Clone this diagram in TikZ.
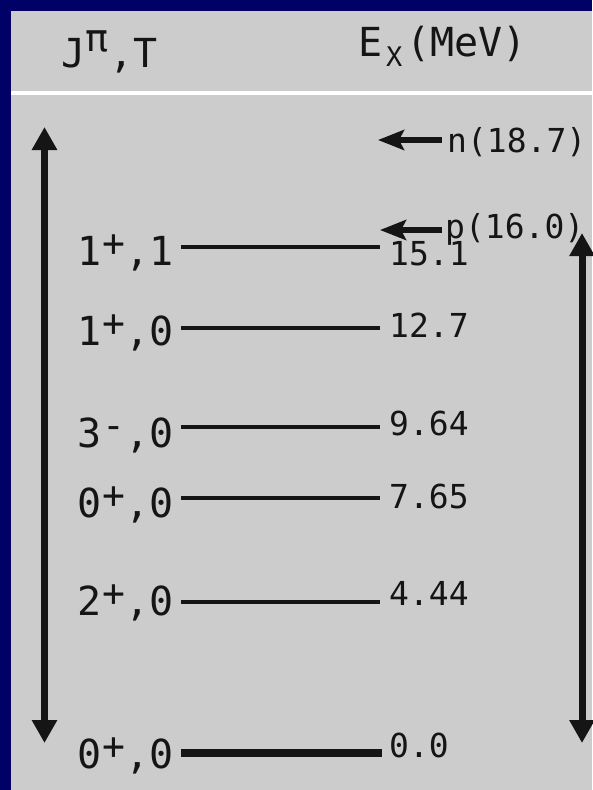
\documentclass[tikz,border=0pt]{standalone}
\usepackage{fontspec}
\newfontfamily\monofnt{DejaVu Sans Mono}
\usetikzlibrary{arrows.meta}
\definecolor{navy}{HTML}{000066}
\definecolor{panel}{HTML}{CCCCCC}
\definecolor{ink}{HTML}{151515}
\newcommand\supr[2][0.22em]{\makebox[0.6em]{\raisebox{#1}{\fontsize{38}{38}\selectfont #2}}}
\newcommand\subr[1]{\makebox[0.6em]{\raisebox{-0.25em}{\fontsize{27}{27}\selectfont #1}}}
\begin{document}
\begin{tikzpicture}[x=1pt,y=-1pt,
  lab/.style={font=\monofnt\fontsize{40}{48}\selectfont, inner sep=0pt, text=ink, anchor=base east},
  hdr/.style={font=\monofnt\fontsize{40}{48}\selectfont, inner sep=0pt, text=ink, anchor=base west},
  val/.style={font=\monofnt\fontsize{33}{40}\selectfont, inner sep=0pt, text=ink, anchor=base west},
  level/.style={draw=ink, line width=3.5pt},
  ground/.style={draw=ink, line width=8pt},
  bigarrow/.style={draw=ink, line width=7pt, {Triangle[length=23pt,width=24pt]}-{Triangle[length=23pt,width=24pt]}},
  sepline/.style={draw=ink, line width=6pt, -{Stealth[length=26pt,width=20pt,inset=5pt]}}]
\useasboundingbox (0,0) rectangle (592,790);
\fill[navy] (0,0) rectangle (592,790);
\fill[panel] (11,11) rectangle (592,790);
\draw[white, line width=4pt] (11,93) -- (592,93);

% headers
\node[hdr] (hJ) at (61,67) {J\supr[0.4em]{π},T};
\node[hdr] (hE) at (358,56) {E\subr{X}(MeV)};

% energy range arrows
\coordinate (A1) at (44.5,127); \coordinate (A2) at (44.5,743);
\draw[bigarrow] (A1) -- (A2);
\coordinate (B1) at (582,233); \coordinate (B2) at (582,743);
\draw[bigarrow] (B1) -- (B2);

% separation thresholds
\coordinate (nt) at (442,140); \coordinate (nh) at (378,140);
\draw[sepline] (nt) -- (nh);
\node[val] (nl) at (447,152) {n(18.7)};
\coordinate (pt) at (442,230); \coordinate (ph) at (380,230);
\draw[sepline] (pt) -- (ph);
\node[val] (pl) at (445,238) {p(16.0)};

% levels
\coordinate (L1a) at (181,247); \coordinate (L1b) at (380,247);
\draw[level] (L1a) -- (L1b);
\node[lab] (J1) at (174,265) {1\supr{+},1};
\node[val] (E1) at (389,265) {15.1};

\coordinate (L2a) at (181,328); \coordinate (L2b) at (380,328);
\draw[level] (L2a) -- (L2b);
\node[lab] (J2) at (174,345) {1\supr{+},0};
\node[val] (E2) at (389,337) {12.7};

\coordinate (L3a) at (181,427); \coordinate (L3b) at (380,427);
\draw[level] (L3a) -- (L3b);
\node[lab] (J3) at (174,447) {3\supr{-},0};
\node[val] (E3) at (389,435) {9.64};

\coordinate (L4a) at (181,498); \coordinate (L4b) at (380,498);
\draw[level] (L4a) -- (L4b);
\node[lab] (J4) at (174,517) {0\supr{+},0};
\node[val] (E4) at (389,508) {7.65};

\coordinate (L5a) at (181,602); \coordinate (L5b) at (380,602);
\draw[level] (L5a) -- (L5b);
\node[lab] (J5) at (174,615) {2\supr{+},0};
\node[val] (E5) at (389,605) {4.44};

\coordinate (L6a) at (181,753); \coordinate (L6b) at (382,753);
\draw[ground] (L6a) -- (L6b);
\node[lab] (J6) at (174,768) {0\supr{+},0};
\node[val] (E6) at (389,757) {0.0};
\end{tikzpicture}
\end{document}
